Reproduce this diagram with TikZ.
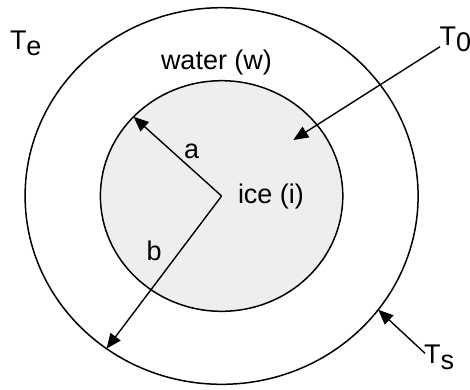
\documentclass[tikz,border=0pt]{standalone}
\usepackage{fontspec}
\setmainfont{Liberation Sans}
\usetikzlibrary{shapes.geometric,arrows.meta}
\begin{document}
\begin{tikzpicture}[x=1pt,y=-1pt,
  lbl/.style={anchor=base west,inner sep=0pt,outer sep=0pt,font=\fontsize{27}{30}\selectfont},
  ring/.style={draw,ellipse,line width=1.5pt,inner sep=0pt,outer sep=0pt},
  arr/.style={line width=1.4pt,-{Triangle[length=15pt,width=12.5pt]}}]
\useasboundingbox (0,0) rectangle (470,389);
\coordinate (c) at (221.6,196);
\node[ring,minimum width=393pt,minimum height=376.6pt] (outer) at (c) {};
\node[ring,fill={rgb,255:red,238;green,238;blue,238},minimum width=242.4pt,minimum height=230.6pt] (inner) at (c) {};
\node[lbl] (te) at (10,49) {T\raisebox{-6.5pt}{e}};
\node[lbl] (water) at (161,69) {water (w)};
\node[lbl] (ice) at (238,203) {ice (i)};
\node[lbl] (a) at (184,158) {a};
\node[lbl] (b) at (146.5,260) {b};
\node[lbl] (t0) at (439.5,45) {T\raisebox{-6.5pt}{0}};
\node[lbl] (ts) at (424,363) {T\raisebox{-6pt}{s}};
\coordinate (t0start) at (440,46.7);
\coordinate (t0tip) at (293.3,140);
\coordinate (tsstart) at (425,353.3);
\draw[arr] (c) -- (inner.138.1);
\draw[arr] (c) -- (outer.233.66);
\draw[arr] (t0start) -- (t0tip);
\draw[arr] (tsstart) -- (outer.-36.7);
\end{tikzpicture}
\end{document}
